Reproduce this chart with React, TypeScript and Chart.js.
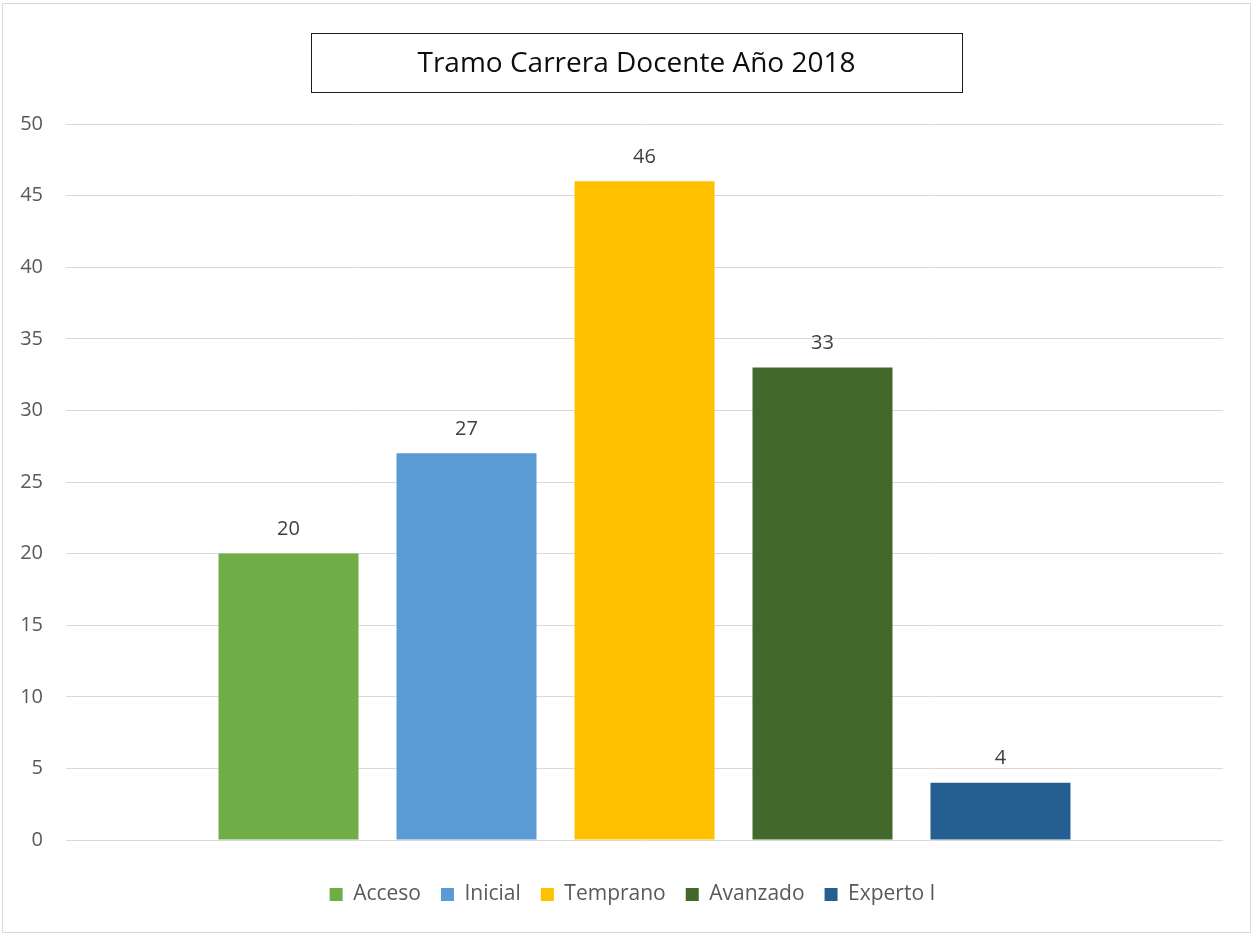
import React, { useEffect, useRef } from "react";
import { Chart, registerables } from "chart.js";

Chart.register(...registerables);

const TITLE = "Tramo Carrera Docente Año 2018";
const CATEGORIES = [""];
const SERIES_NAMES = ["Acceso", "Inicial", "Temprano", "Avanzado", "Experto I"];
const SERIES_VALUES = [20, 27, 46, 33, 4];
const SERIES_COLORS = ["#70AD47", "#5B9BD5", "#FFC000", "#43682B", "#255E91"];
const Y_MIN = 0;
const Y_MAX = 50;
const Y_STEP = 5;

const FONT = "'Open Sans', 'Noto Sans', sans-serif";

const framePlugin = {
  id: "frame",
  afterLayout(chart: any) {
    if (chart.legend) {
      chart.legend.left = 0;
      chart.legend.right = 1265;
    }
  },
  beforeDraw(chart: any) {
    const ctx = chart.ctx;
    ctx.save();
    ctx.fillStyle = "#ffffff";
    ctx.fillRect(0, 0, chart.width, chart.height);
    ctx.strokeStyle = "#d9d9d9";
    ctx.lineWidth = 1;
    ctx.strokeRect(2.5, 3.5, 1248, 929);
    ctx.restore();
  },
  afterDraw(chart: any) {
    const ctx = chart.ctx;
    ctx.save();
    ctx.strokeStyle = "#1a1a1a";
    ctx.lineWidth = 1;
    ctx.strokeRect(311.5, 33.5, 651, 59);
    ctx.fillStyle = "#0d0d0d";
    ctx.font = `28px ${FONT}`;
    ctx.textAlign = "center";
    ctx.textBaseline = "middle";
    ctx.fillText(TITLE, 636.5, 64);
    ctx.restore();
  },
};

const valueLabelPlugin = {
  id: "valueLabels",
  afterDatasetsDraw(chart: any) {
    const ctx = chart.ctx;
    ctx.save();
    ctx.fillStyle = "#404040";
    ctx.font = `20px ${FONT}`;
    ctx.textAlign = "center";
    ctx.textBaseline = "middle";
    chart.data.datasets.forEach((ds: any, i: number) => {
      const meta = chart.getDatasetMeta(i);
      meta.data.forEach((bar: any, j: number) => {
        ctx.fillText(String(ds.data[j]), bar.x, bar.y - 24);
      });
    });
    ctx.restore();
  },
};

export default function App() {
  const ref = useRef<HTMLCanvasElement>(null);
  useEffect(() => {
    if (!ref.current) return;
    Chart.defaults.font.family = FONT;
    const chart = new Chart(ref.current, {
      type: "bar",
      data: {
        labels: CATEGORIES,
        datasets: SERIES_NAMES.map((name, i) => ({
          label: name,
          data: [SERIES_VALUES[i]],
          backgroundColor: SERIES_COLORS[i],
          borderWidth: 0,
          categoryPercentage: 0.7692,
          barPercentage: 0.7865,
        })),
      },
      options: {
        responsive: false,
        animation: false,
        layout: { padding: { top: 124, right: 29, left: 0, bottom: 20 } },
        plugins: {
          title: { display: false },
          tooltip: { enabled: false },
          legend: {
            position: "bottom",
            labels: {
              boxWidth: 13,
              boxHeight: 13,
              padding: 20,
              color: "#595959",
              font: { size: 21, family: FONT },
            },
          },
        },
        scales: {
          x: {
            display: true,
            grid: { display: false },
            border: { display: false },
            ticks: { display: false },
            afterFit: (scale: any) => {
              scale.height = 24;
            },
          },
          y: {
            min: Y_MIN,
            max: Y_MAX,
            ticks: {
              stepSize: Y_STEP,
              color: "#595959",
              font: { size: 20, family: FONT },
              padding: 23,
            },
            grid: { color: "#d9d9d9", lineWidth: 1, drawTicks: false },
            border: { display: false },
            afterFit: (scale: any) => {
              scale.width = 66;
            },
          },
        },
      },
      plugins: [framePlugin, valueLabelPlugin],
    } as any);
    return () => chart.destroy();
  }, []);
  return (
    <div style={{ position: "absolute", left: 0, top: 0, width: 1252, height: 935 }}>
      <canvas ref={ref} width={1252} height={935} />
    </div>
  );
}
